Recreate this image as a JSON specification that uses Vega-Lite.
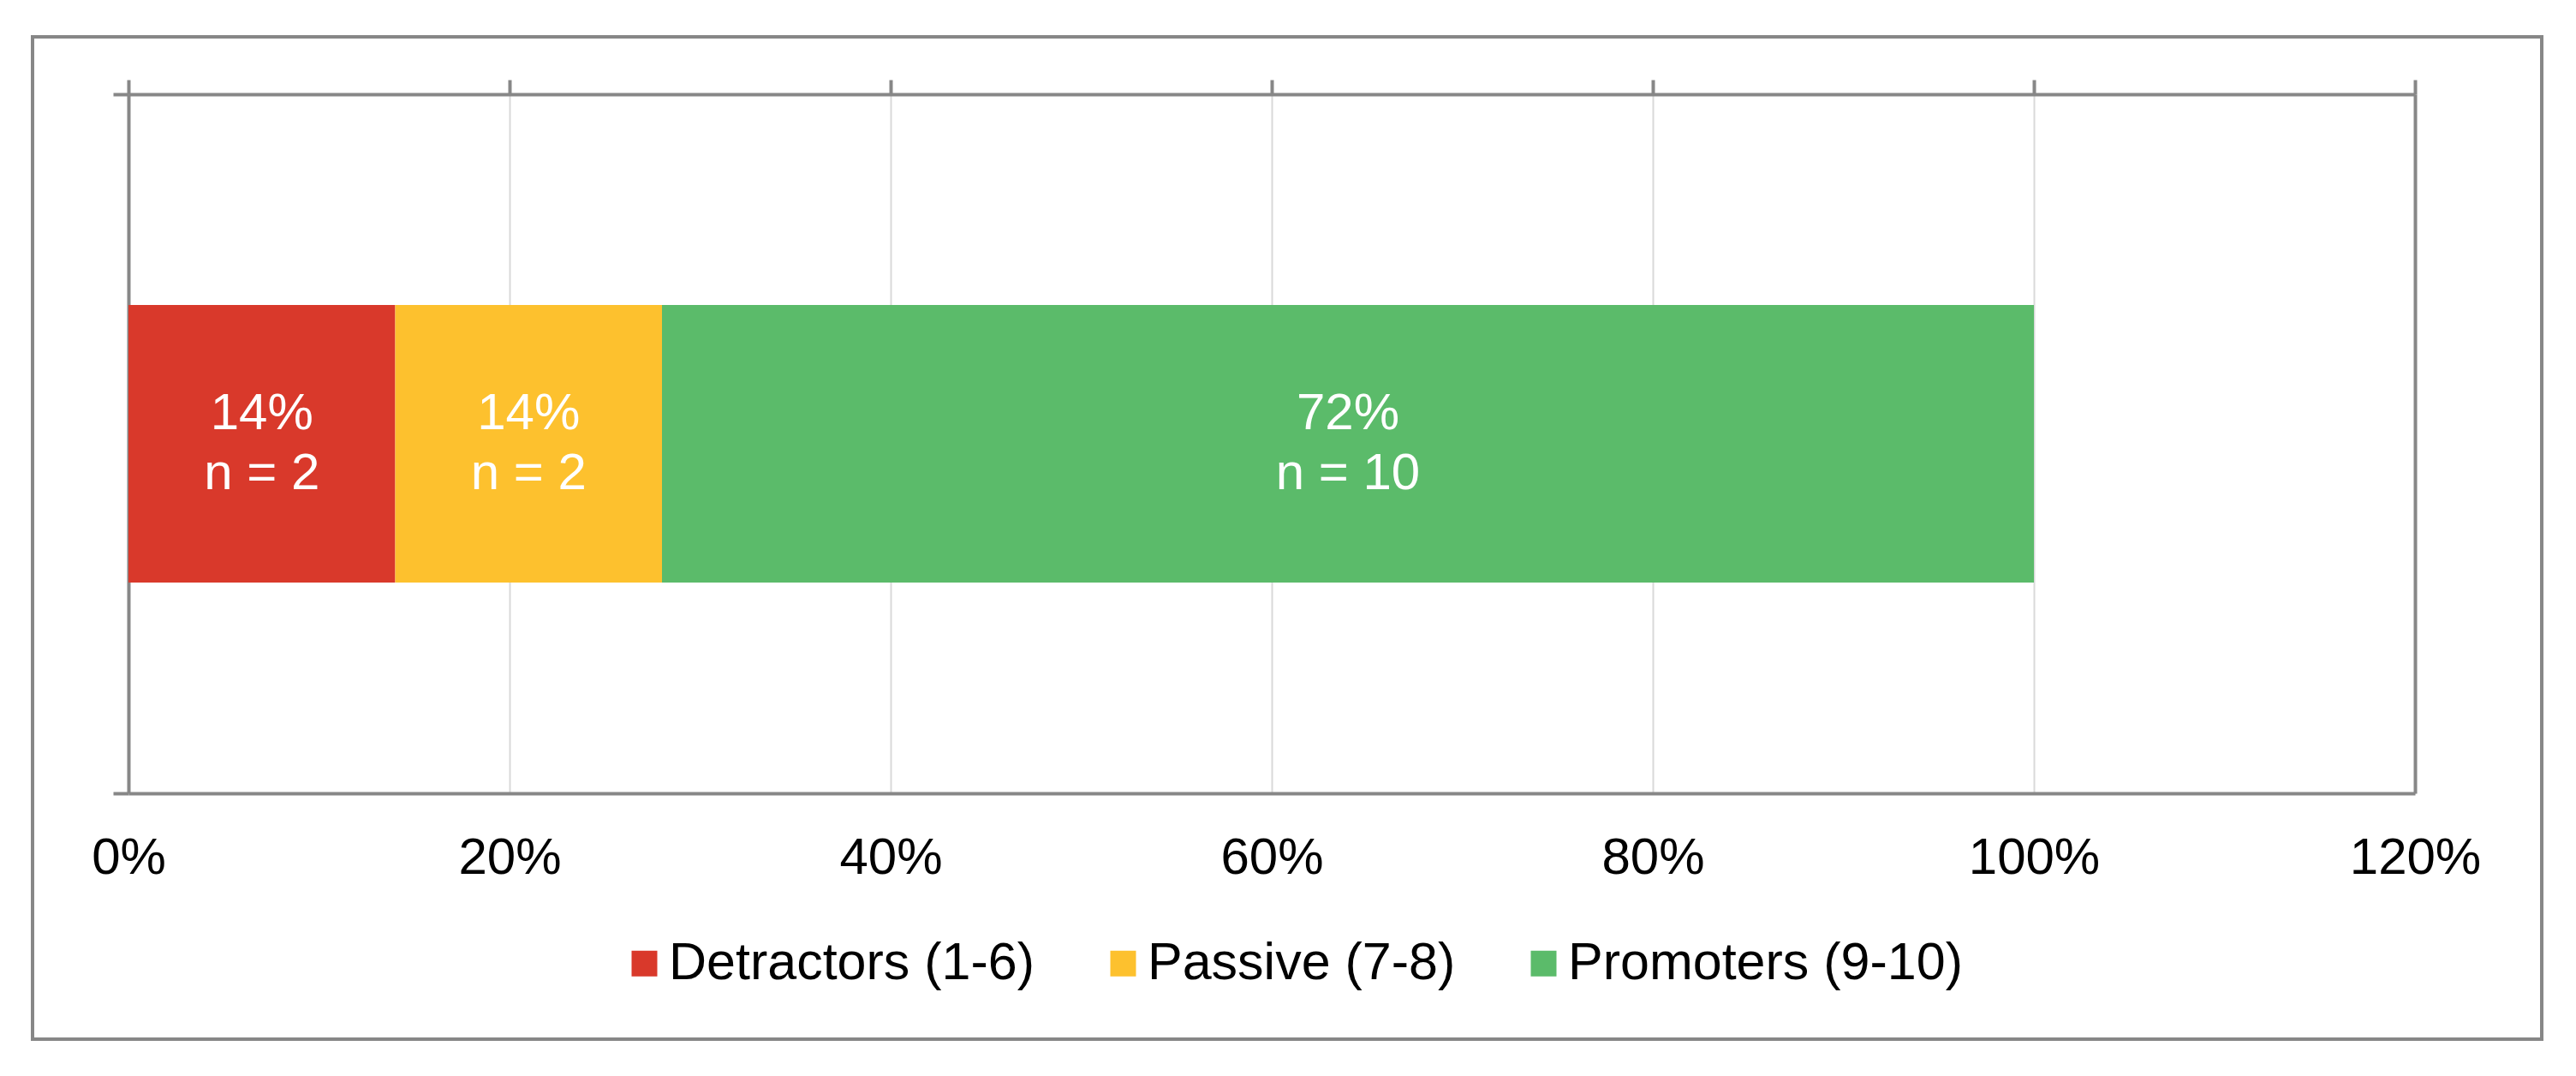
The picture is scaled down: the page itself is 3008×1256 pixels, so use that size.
{
  "$schema": "https://vega.github.io/schema/vega-lite/v6.json",
  "autosize": {"type": "none"},
  "width": 2930,
  "height": 1170,
  "padding": {"left": 38, "top": 43, "right": 40, "bottom": 43},
  "background": "white",
  "config": {
    "view": {"stroke": "#878787", "strokeWidth": 4},
    "font": "Liberation Sans"
  },
  "data": {
    "values": [
      {"row": "NPS", "category": "Detractors (1-6)", "pct": 0.14, "n": 2},
      {"row": "NPS", "category": "Passive (7-8)", "pct": 0.14, "n": 2},
      {"row": "NPS", "category": "Promoters (9-10)", "pct": 0.72, "n": 10}
    ]
  },
  "resolve": {"axis": {"x": "independent", "y": "independent"}},
  "layer": [
    {
      "mark": {"type": "bar", "height": {"band": 0.397}},
      "encoding": {
        "y": {
          "field": "row", "type": "nominal",
          "scale": {"range": [67, 883], "paddingInner": 0, "paddingOuter": 0},
          "axis": {
            "orient": "left", "offset": -112, "title": null, "labels": false,
            "domainColor": "#878787", "domainWidth": 4,
            "ticks": true, "tickBand": "extent", "tickSize": 18, "tickColor": "#878787", "tickWidth": 4,
            "grid": false
          }
        },
        "x": {
          "field": "pct", "type": "quantitative", "stack": "zero",
          "scale": {"domain": [0, 1.2], "range": [112, 2782], "nice": false},
          "axis": {
            "orient": "bottom", "offset": -287, "title": null,
            "values": [0, 0.2, 0.4, 0.6, 0.8, 1.0, 1.2], "format": ".0%",
            "domainColor": "#878787", "domainWidth": 4, "ticks": false,
            "labelFontSize": 60, "labelColor": "#000000", "labelPadding": 46,
            "labelFlush": false, "labelOverlap": false,
            "grid": false
          }
        },
        "color": {
          "field": "category", "type": "nominal",
          "scale": {
            "domain": ["Detractors (1-6)", "Passive (7-8)", "Promoters (9-10)"],
            "range": ["#D9392B", "#FDC12E", "#5BBB6A"]
          },
          "legend": {
            "orient": "none", "legendX": 684, "legendY": 1051, "direction": "horizontal",
            "title": null, "symbolType": "square", "symbolSize": 900, "symbolStrokeWidth": 0,
            "labelFontSize": 61, "labelColor": "#000000", "labelOffset": -2,
            "columnPadding": 72, "labelLimit": 1000, "padding": 0
          }
        }
      }
    },
    {
      "transform": [
        {"stack": "pct", "groupby": ["row"], "sort": [{"field": "category"}], "as": ["x0", "x1"]},
        {"calculate": "(datum.x0 + datum.x1) / 2", "as": "mid"},
        {"calculate": "[format(datum.pct, '.0%'), 'n = ' + datum.n]", "as": "label"}
      ],
      "mark": {"type": "text", "color": "white", "fontSize": 60, "lineHeight": 70, "baseline": "middle", "align": "center", "dy": -35},
      "encoding": {
        "y": {
          "field": "row", "type": "nominal",
          "axis": {
            "orient": "right", "offset": -148, "title": null, "labels": false,
            "domainColor": "#878787", "domainWidth": 4, "ticks": false, "grid": false
          }
        },
        "x": {
          "field": "mid", "type": "quantitative",
          "axis": {
            "orient": "top", "offset": -67, "title": null, "labels": false,
            "values": [0, 0.2, 0.4, 0.6, 0.8, 1.0, 1.2],
            "domainColor": "#878787", "domainWidth": 4,
            "ticks": true, "tickSize": 17, "tickColor": "#878787", "tickWidth": 4,
            "grid": true, "gridColor": "#D9D9D9", "gridWidth": 2
          }
        },
        "text": {"field": "label", "type": "nominal"}
      }
    }
  ]
}
